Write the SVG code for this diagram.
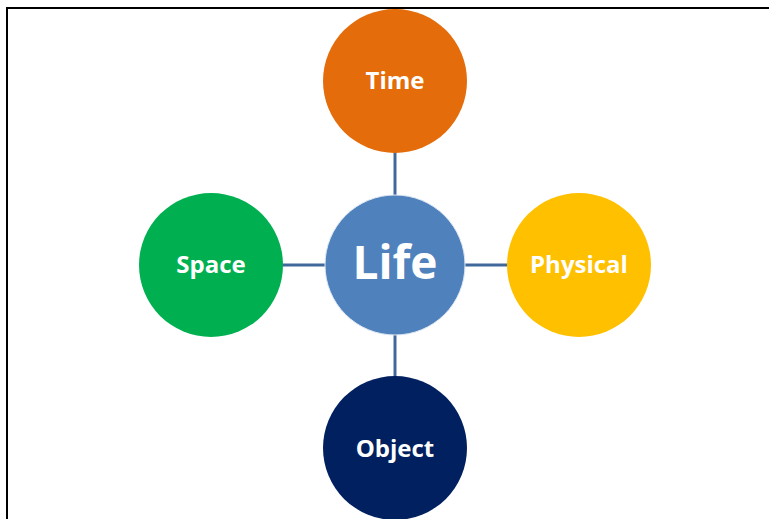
<svg xmlns="http://www.w3.org/2000/svg" width="769" height="519" viewBox="0 0 769 519">
<style>
.lbl{font-family:"Open Sans","Liberation Sans",sans-serif;font-weight:bold;fill:#fff;text-anchor:middle;dominant-baseline:central}
.conn{stroke:#41689B;stroke-width:3;fill:none}
</style>
<rect x="0" y="0" width="769" height="519" fill="#fff"/>
<path d="M7,530 V8 H780" fill="none" stroke="#000" stroke-width="2"/>
<g id="connectors">
<line class="conn" x1="395" y1="152" x2="395" y2="196"/>
<line class="conn" x1="395" y1="334" x2="395" y2="377"/>
<line class="conn" x1="282" y1="265" x2="326" y2="265"/>
<line class="conn" x1="464" y1="265" x2="508" y2="265"/>
</g>
<g id="time"><circle cx="395" cy="81" r="72" fill="#E46C0A"/><text class="lbl" x="395" y="79" font-size="24">Time</text></g>
<g id="space"><circle cx="211" cy="265" r="72" fill="#00B050"/><text class="lbl" x="211" y="263" font-size="24">Space</text></g>
<g id="physical"><circle cx="579" cy="265" r="72" fill="#FFC000"/><text class="lbl" x="579" y="263" font-size="24">Physical</text></g>
<g id="object"><circle cx="395" cy="448" r="72" fill="#002060"/><text class="lbl" x="395" y="447" font-size="24">Object</text></g>
<g id="life"><circle cx="395" cy="265" r="70" fill="#4F81BD" stroke="#dfe8f3" stroke-width="1"/><text class="lbl" x="395" y="261" font-size="46">Life</text></g>
</svg>
